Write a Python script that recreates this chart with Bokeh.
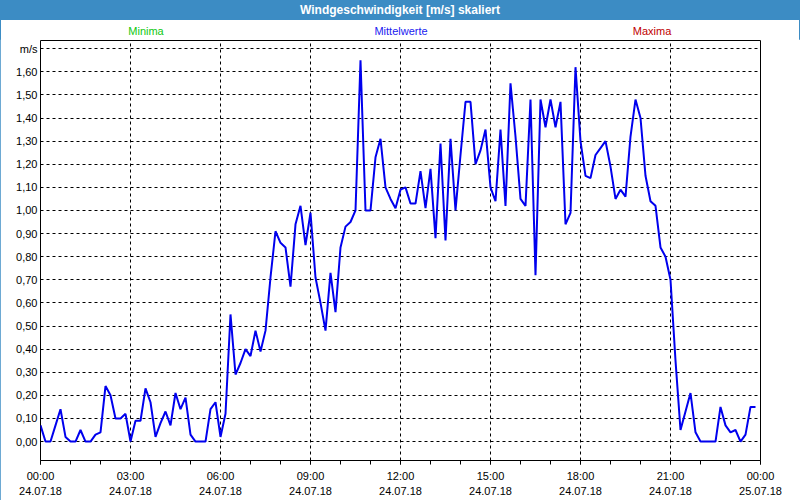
import numpy as np
from bokeh.plotting import figure
from bokeh.models import FixedTicker, Range1d, Div, LinearAxis
from bokeh.layouts import column
from bokeh.embed import file_html
from bokeh.resources import INLINE

# ---- data: 10-minute mean wind speed on 24.07.18 (m/s) ----
sample_minutes = list(range(0, 24 * 60, 10))
wind = [
    0.07, 0.00, 0.00, 0.07, 0.14, 0.02, 0.00, 0.00, 0.05, 0.00,
    0.00, 0.03, 0.04, 0.24, 0.20, 0.10, 0.10, 0.12, 0.00, 0.09,
    0.09, 0.23, 0.17, 0.02, 0.08, 0.13, 0.07, 0.21, 0.14, 0.19,
    0.03, 0.00, 0.00, 0.00, 0.14, 0.17, 0.02, 0.12, 0.55, 0.29,
    0.34, 0.40, 0.37, 0.48, 0.39, 0.48, 0.71, 0.91, 0.86, 0.84,
    0.67, 0.94, 1.02, 0.85, 0.99, 0.71, 0.60, 0.48, 0.73, 0.56,
    0.84, 0.93, 0.95, 1.00, 1.65, 1.00, 1.00, 1.23, 1.31, 1.10,
    1.05, 1.01, 1.09, 1.10, 1.03, 1.03, 1.17, 1.01, 1.18, 0.88,
    1.29, 0.87, 1.31, 1.00, 1.24, 1.47, 1.47, 1.20, 1.26, 1.35,
    1.10, 1.04, 1.35, 1.02, 1.55, 1.32, 1.05, 1.02, 1.48, 0.72,
    1.48, 1.36, 1.48, 1.36, 1.47, 0.94, 0.99, 1.62, 1.30, 1.15,
    1.14, 1.24, 1.27, 1.30, 1.19, 1.05, 1.09, 1.06, 1.32, 1.48,
    1.40, 1.15, 1.04, 1.02, 0.84, 0.80, 0.70, 0.35, 0.05, 0.13,
    0.21, 0.04, 0.00, 0.00, 0.00, 0.00, 0.15, 0.07, 0.04, 0.05,
    0.00, 0.03, 0.15, 0.15,
]

x_ticks = [0, 3, 6, 9, 12, 15, 18, 21, 24]
x_tick_times = ["00:00", "03:00", "06:00", "09:00", "12:00", "15:00", "18:00", "21:00", "00:00"]
x_tick_dates = ["24.07.18"] * 8 + ["25.07.18"]
x_minor = list(range(0, 25))

y_ticks = [0.0, 0.1, 0.2, 0.3, 0.4, 0.5, 0.6, 0.7, 0.8, 0.9, 1.0,
           1.1, 1.2, 1.3, 1.4, 1.5, 1.6, 1.7]
y_tick_labels = ["0,00", "0,10", "0,20", "0,30", "0,40", "0,50", "0,60", "0,70", "0,80",
                 "0,90", "1,00", "1,10", "1,20", "1,30", "1,40", "1,50", "1,60", "m/s"]

title_text = "Windgeschwindigkeit [m/s] skaliert"
legend_texts = ["Minima", "Mittelwerte", "Maxima"]
legend_colors = ["#10c810", "#1a1af0", "#c00000"]
legend_centers_px = [146, 401, 652]

FONT = "Liberation Sans"
BAR = "#3c8cc4"

x_hours = np.array(sample_minutes) / 60.0

p = figure(width=800, height=461,
           x_range=Range1d(0, 24), y_range=Range1d(-0.082, 1.7355),
           output_backend="svg", toolbar_location=None,
           min_border_left=40, min_border_right=40,
           min_border_top=1, min_border_bottom=40, margin=0)
p.background_fill_color = "white"
p.border_fill_color = "white"
p.outline_line_color = "black"
p.outline_line_width = 1
p.outline_line_alpha = 1.0

# grids
p.xgrid.ticker = FixedTicker(ticks=x_ticks[1:-1])
p.ygrid.ticker = FixedTicker(ticks=y_ticks)
for g in (p.xgrid, p.ygrid):
    g.grid_line_color = "black"
    g.grid_line_dash = "3 3"
    g.grid_line_width = 1
    g.grid_line_alpha = 1.0

# x axis: times (with ticks)
xa = p.xaxis[0]
xa.ticker = FixedTicker(ticks=x_ticks, minor_ticks=x_minor)
xa.major_label_overrides = {t: s for t, s in zip(x_ticks, x_tick_times)}
xa.axis_line_color = None
xa.major_tick_in = 0
xa.major_tick_out = 4
xa.minor_tick_in = 0
xa.minor_tick_out = 4
xa.major_tick_line_color = "black"
xa.minor_tick_line_color = "black"
xa.major_label_standoff = 5
xa.major_label_text_font = FONT
xa.major_label_text_font_size = "11px"
xa.major_label_text_color = "black"

# second x axis: dates
xd = LinearAxis(ticker=FixedTicker(ticks=x_ticks, minor_ticks=[]))
xd.major_label_overrides = {t: s for t, s in zip(x_ticks, x_tick_dates)}
xd.axis_line_color = None
xd.major_tick_in = 0
xd.major_tick_out = 0
xd.minor_tick_in = 0
xd.minor_tick_out = 0
xd.major_label_standoff = 2
xd.major_label_text_font = FONT
xd.major_label_text_font_size = "11px"
xd.major_label_text_color = "black"
p.add_layout(xd, "below")

# y axis
ya = p.yaxis[0]
ya.ticker = FixedTicker(ticks=y_ticks, minor_ticks=[])
ya.major_label_overrides = {t: s for t, s in zip(y_ticks, y_tick_labels)}
ya.axis_line_color = None
ya.major_tick_in = 0
ya.major_tick_out = 0
ya.major_label_standoff = 3
ya.major_label_text_font = FONT
ya.major_label_text_font_size = "11px"
ya.major_label_text_color = "black"

p.line(x_hours, wind, line_color="#0000ee", line_width=2)

legend_html = "".join(
    f'<span style="position:absolute;left:{c}px;top:25px;transform:translateX(-50%);'
    f'color:{col};font-size:11px;line-height:13px;white-space:nowrap;">{t}</span>'
    for t, col, c in zip(legend_texts, legend_colors, legend_centers_px)
)
header_html = (
    f'<div style="position:relative;width:800px;height:39px;font-family:\'{FONT}\';">'
    f'<div style="position:absolute;left:0;top:0;width:800px;height:20px;background:{BAR};'
    f'color:white;font-weight:bold;font-size:12px;line-height:20px;text-align:center;">'
    f'{title_text}</div>{legend_html}</div>'
)
header = Div(text=header_html, width=800, height=39, margin=0)

layout = column(header, p, margin=0, spacing=0,
                styles={"outline": f"1px solid {BAR}", "outline-offset": "-1px"})
open("out.html", "w").write(file_html(layout, INLINE))
